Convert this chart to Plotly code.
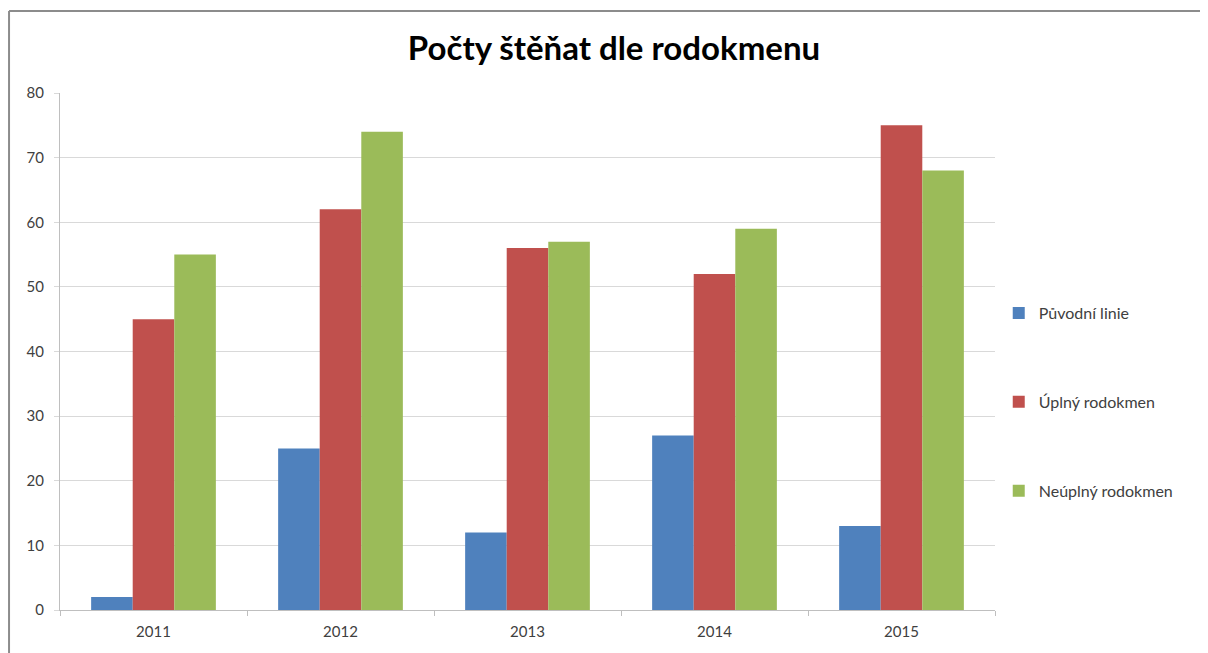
import plotly.graph_objects as go

roky = ["2011", "2012", "2013", "2014", "2015"]
puvodni = [2, 25, 12, 27, 13]
uplny = [45, 62, 56, 52, 75]
neuplny = [55, 74, 57, 59, 68]

nazvy = ["Původní linie", "Úplný rodokmen", "Neúplný rodokmen"]
barvy = ["#4F81BD", "#C0504D", "#9BBB59"]

fig = go.Figure()
for i, (nazev, hodnoty) in enumerate(zip(nazvy, [puvodni, uplny, neuplny])):
    fig.add_trace(go.Bar(x=roky, y=hodnoty, name=nazev, marker_color=barvy[i],
                         marker_line_width=0, legendgroup=str(i)))

# ramecek grafu (jen levy a horni okraj je videt)
fig.add_shape(type="line", xref="paper", yref="paper", x0=-0.0545, x1=1.3, y0=1.1586, y1=1.1586,
              line=dict(color="#8C8C8C", width=2))
fig.add_shape(type="line", xref="paper", yref="paper", x0=-0.0545, x1=-0.0545, y0=1.1586, y1=-0.2,
              line=dict(color="#8C8C8C", width=2))

# stranka ma okraj 8px, proto mensi rozmer
fig.update_layout(
    width=1200, height=645,
    margin=dict(l=52, r=213, t=85, b=43),
    paper_bgcolor="white", plot_bgcolor="white",
    barmode="group", bargap=0.333, bargroupgap=0,
    font=dict(family="Lato, Open Sans, sans-serif", size=15, color="#404040"),
    title=dict(text="<b>Počty štěňat dle rodokmenu</b>", x=0.505, xanchor="center",
               xref="container", y=0.938, yanchor="middle", yref="container",
               font=dict(size=33, color="#000000", family="Lato, Open Sans, sans-serif")),
    legend=dict(x=1.004, xanchor="left", y=0.402, yanchor="middle", tracegroupgap=65,
                itemwidth=30, font=dict(size=16, color="#404040"), bgcolor="rgba(0,0,0,0)"),
    xaxis=dict(showline=True, linecolor="#BFBFBF", ticks="outside", tickson="boundaries",
               ticklen=5, tickcolor="#BFBFBF", showgrid=False, ticklabelstandoff=8),
    yaxis=dict(range=[0, 80], dtick=10, showline=True, linecolor="#BFBFBF", gridcolor="#D9D9D9",
               ticks="outside", ticklen=5, tickcolor="#D9D9D9", zeroline=False,
               ticklabelstandoff=7),
)

fig.write_html("out.html")
